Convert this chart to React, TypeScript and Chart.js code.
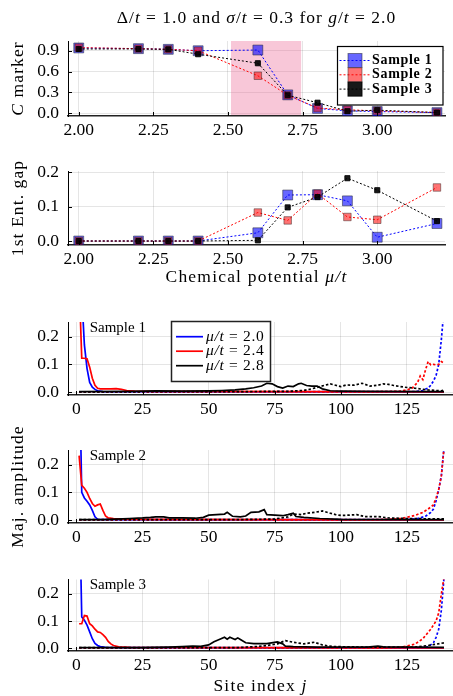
import React, { useEffect, useRef } from "react";
import { Chart, registerables } from "chart.js";
Chart.register(...registerables);

const FONT = '"Liberation Serif", "Times New Roman", serif';

// ---------- top panels data ----------
const MU = [2.0, 2.2, 2.3, 2.4, 2.6, 2.7, 2.8, 2.9, 3.0, 3.2];
const C_S1 = [0.94, 0.93, 0.92, 0.9, 0.91, 0.265, 0.07, 0.035, 0.025, 0.01];
const C_S2 = [0.945, 0.93, 0.92, 0.9, 0.54, 0.26, 0.075, 0.05, 0.035, 0.012];
const C_S3 = [0.925, 0.925, 0.92, 0.85, 0.72, 0.26, 0.152, 0.03, 0.045, 0.01];
const GAP_S1 = [0, 0, 0, 0, 0.024, 0.134, 0.135, 0.117, 0.011, 0.051];
const GAP_S2 = [0, 0, 0, 0, 0.083, 0.06, 0.138, 0.07, 0.062, 0.156];
const GAP_S3 = [0, 0, 0, 0, 0.002, 0.098, 0.128, 0.183, 0.148, 0.058];
const SAMPLE_LABELS = ["Sample 1", "Sample 2", "Sample 3"];
const MU_LABELS = ["2.0", "2.4", "2.8"];
const SHADE_MU = [2.51, 2.745];

const X_TICKS_MU = [2.0, 2.25, 2.5, 2.75, 3.0];
const Y_TICKS_C = [0, 0.3, 0.6, 0.9];
const Y_TICKS_GAP = [0, 0.1, 0.2];
const X_TICKS_SITE = [0, 25, 50, 75, 100, 125];
const Y_TICKS_AMP = [0, 0.1, 0.2];

// ---------- Majorana amplitudes: [site, value] ----------
type Pt = [number, number];
// Sample 1
const S1_B_SOLID: Pt[] = [[1, 0.5], [2, 0.35], [3, 0.17], [4, 0.085], [5, 0.035], [6, 0.018], [7, 0.01], [8, 0.005], [10, 0.002], [139, 0.001]];
const S1_B_DOT: Pt[] = [[1, 0.001], [128, 0.002], [131, 0.006], [133, 0.015], [134, 0.025], [135, 0.04], [136, 0.06], [137, 0.1], [138, 0.19], [139, 0.3]];
const S1_R_SOLID: Pt[] = [[1, 0.4], [2, 0.122], [3, 0.122], [4, 0.12], [5, 0.09], [6, 0.05], [7, 0.025], [8, 0.014], [9, 0.012], [13, 0.012], [15, 0.013], [17, 0.01], [19, 0.006], [22, 0.004], [30, 0.003], [100, 0.002], [139, 0.001]];
const S1_R_DOT: Pt[] = [[1, 0.001], [110, 0.001], [122, 0.003], [125, 0.008], [127, 0.015], [129, 0.035], [130, 0.058], [131, 0.045], [132, 0.08], [133, 0.11], [134, 0.098], [135, 0.1], [136, 0.098], [137, 0.1], [138, 0.11], [139, 0.105]];
const S1_K_SOLID: Pt[] = [[1, 0.002], [20, 0.003], [30, 0.005], [40, 0.004], [50, 0.005], [55, 0.006], [60, 0.008], [64, 0.012], [67, 0.016], [70, 0.022], [72, 0.032], [74, 0.03], [76, 0.02], [78, 0.015], [80, 0.022], [82, 0.02], [84, 0.03], [85, 0.032], [87, 0.024], [89, 0.022], [91, 0.022], [93, 0.012], [96, 0.005], [100, 0.004], [110, 0.003], [139, 0.002]];
const S1_K_DOT: Pt[] = [[1, 0.001], [60, 0.002], [80, 0.003], [86, 0.006], [89, 0.012], [92, 0.02], [96, 0.03], [98, 0.025], [100, 0.02], [102, 0.026], [105, 0.025], [108, 0.032], [111, 0.022], [114, 0.025], [116, 0.03], [118, 0.028], [120, 0.024], [124, 0.018], [128, 0.014], [133, 0.008], [136, 0.006], [138, 0.005], [139, 0.008]];
// Sample 2
const S2_B_SOLID: Pt[] = [[1, 0.6], [2, 0.1], [3, 0.08], [4, 0.068], [5, 0.055], [6, 0.035], [7, 0.012], [8, 0.003], [15, 0.002], [139, 0.001]];
const S2_B_DOT: Pt[] = [[1, 0.001], [125, 0.002], [129, 0.006], [132, 0.014], [134, 0.028], [135, 0.04], [136, 0.07], [137, 0.11], [138, 0.16], [139, 0.26]];
const S2_R_SOLID: Pt[] = [[1, 0.232], [2, 0.125], [3, 0.115], [4, 0.1], [5, 0.078], [6, 0.06], [7, 0.05], [8, 0.055], [9, 0.058], [10, 0.035], [11, 0.015], [12, 0.008], [14, 0.006], [18, 0.004], [25, 0.003], [139, 0.001]];
const S2_R_DOT: Pt[] = [[1, 0.001], [110, 0.001], [118, 0.003], [123, 0.006], [128, 0.017], [131, 0.028], [133, 0.04], [135, 0.055], [136, 0.08], [137, 0.11], [138, 0.16], [139, 0.26]];
const S2_K_SOLID: Pt[] = [[1, 0.002], [10, 0.002], [15, 0.004], [20, 0.006], [25, 0.008], [28, 0.01], [30, 0.012], [33, 0.012], [35, 0.008], [40, 0.008], [45, 0.007], [48, 0.01], [50, 0.018], [53, 0.02], [56, 0.022], [57, 0.028], [59, 0.014], [62, 0.012], [64, 0.015], [66, 0.028], [69, 0.03], [71, 0.038], [72, 0.02], [75, 0.018], [78, 0.016], [80, 0.02], [82, 0.025], [83, 0.013], [86, 0.01], [92, 0.006], [100, 0.003], [139, 0.002]];
const S2_K_DOT: Pt[] = [[1, 0.002], [60, 0.002], [75, 0.004], [80, 0.012], [82, 0.022], [85, 0.02], [87, 0.025], [90, 0.028], [93, 0.033], [96, 0.025], [98, 0.02], [100, 0.017], [103, 0.018], [106, 0.02], [109, 0.013], [114, 0.013], [118, 0.008], [124, 0.006], [132, 0.005], [139, 0.005]];
// Sample 3
const S3_B_SOLID: Pt[] = [[1, 0.6], [2, 0.115], [3, 0.103], [4, 0.085], [5, 0.06], [6, 0.035], [7, 0.018], [8, 0.01], [9, 0.006], [11, 0.003], [20, 0.002], [139, 0.001]];
const S3_B_DOT: Pt[] = [[1, 0.001], [130, 0.002], [133, 0.005], [135, 0.02], [136, 0.04], [137, 0.07], [138, 0.14], [139, 0.26]];
const S3_R_SOLID: Pt[] = [[1, 0.09], [2, 0.09], [3, 0.12], [4, 0.118], [5, 0.09], [6, 0.082], [7, 0.07], [8, 0.06], [9, 0.058], [10, 0.05], [11, 0.04], [12, 0.025], [13, 0.016], [14, 0.01], [16, 0.005], [20, 0.003], [139, 0.001]];
const S3_R_DOT: Pt[] = [[1, 0.001], [115, 0.001], [122, 0.003], [125, 0.008], [128, 0.015], [131, 0.035], [134, 0.07], [136, 0.1], [137, 0.13], [138, 0.2], [139, 0.26]];
const S3_K_SOLID: Pt[] = [[1, 0.002], [25, 0.002], [35, 0.004], [40, 0.006], [44, 0.008], [47, 0.007], [50, 0.012], [52, 0.024], [54, 0.032], [56, 0.04], [57, 0.033], [58, 0.04], [60, 0.032], [61, 0.038], [62, 0.032], [64, 0.02], [67, 0.017], [72, 0.017], [76, 0.023], [78, 0.016], [79, 0.008], [82, 0.006], [91, 0.004], [110, 0.004], [114, 0.008], [116, 0.005], [139, 0.003]];
const S3_K_DOT: Pt[] = [[1, 0.002], [60, 0.002], [68, 0.006], [72, 0.01], [76, 0.016], [79, 0.028], [82, 0.022], [86, 0.016], [90, 0.022], [93, 0.012], [97, 0.006], [110, 0.004], [128, 0.004], [133, 0.01], [136, 0.015], [139, 0.02]];

const ANNOT_POS: Pt = [5, 0.232];

// ---------- styling ----------
const COLORS = ["#0000ff", "#ff0000", "#000000"];
const MARK_FILL = ["rgba(0,0,255,0.6)", "rgba(255,0,0,0.55)", "rgba(0,0,0,0.9)"];
const MARK_BORDER = ["rgba(40,40,60,0.55)", "rgba(60,40,40,0.5)", "rgba(0,0,0,0.9)"];
const MARK_R = [7, 5.3, 3.6];

type Part = [string, number]; // 0 normal, 1 italic, 2 bold
function rich(ctx: CanvasRenderingContext2D, parts: Part[], x: number, y: number, size: number, align = "center", rot = false, spacing = 0) {
  ctx.save();
  ctx.translate(x, y);
  if (rot) ctx.rotate(-Math.PI / 2);
  (ctx as any).letterSpacing = `${spacing}px`;
  const fonts = parts.map(([, s]) => `${s === 1 ? "italic " : ""}${s === 2 ? "bold " : ""}${size}px ${FONT}`);
  let total = 0;
  const ws = parts.map(([t], k) => {
    ctx.font = fonts[k];
    const w = ctx.measureText(t).width;
    total += w;
    return w;
  });
  let cx = align === "center" ? -total / 2 : align === "right" ? -total : 0;
  ctx.textBaseline = "middle";
  ctx.textAlign = "left";
  ctx.fillStyle = "#000";
  parts.forEach(([t], k) => {
    ctx.font = fonts[k];
    ctx.fillText(t, cx, 0);
    cx += ws[k];
  });
  ctx.restore();
}

function innerTicks(c: any) {
  const { ctx, chartArea: a, scales } = c;
  const x = scales.x, y = scales.y;
  ctx.save();
  ctx.strokeStyle = "#000";
  ctx.lineWidth = 1;
  ctx.beginPath();
  x.ticks.forEach((t: any) => {
    const px = Math.round(x.getPixelForValue(t.value)) + 0.5;
    ctx.moveTo(px, a.bottom);
    ctx.lineTo(px, a.bottom - 4);
  });
  y.ticks.forEach((t: any) => {
    const py = Math.round(y.getPixelForValue(t.value)) + 0.5;
    ctx.moveTo(a.left, py);
    ctx.lineTo(a.left + 4, py);
  });
  ctx.stroke();
  ctx.restore();
}

interface Spec {
  height: number;
  padTop: number;
  xH: number;
  xRange: [number, number];
  yRange: [number, number];
  xTicks: number[];
  yTicks: number[];
  xDec: number;
  yDec: number;
  datasets: any[];
  draw: (c: any) => void;
  under?: (c: any) => void;
}

function build(canvas: HTMLCanvasElement, s: Spec) {
  const tickFont = { family: FONT, size: 17.5 };
  return new Chart(canvas, {
    type: "line",
    data: { datasets: s.datasets },
    options: {
      responsive: false,
      animation: false,
      devicePixelRatio: 1,
      events: [],
      layout: { padding: { top: s.padTop, left: 0, right: 0, bottom: 0 } },
      plugins: { legend: { display: false }, tooltip: { enabled: false }, title: { display: false } },
      scales: {
        x: {
          type: "linear",
          min: s.xRange[0],
          max: s.xRange[1],
          afterBuildTicks: (sc: any) => { sc.ticks = s.xTicks.map((v) => ({ value: v })); },
          afterFit: (sc: any) => { sc.height = s.xH; },
          grid: { color: "rgba(0,0,0,0.1)", lineWidth: 1, drawTicks: false },
          border: { display: true, color: "#222", width: 1.6 },
          ticks: { font: tickFont, color: "#000", padding: 4, maxRotation: 0, autoSkip: false, callback: (v: any) => Number(v).toFixed(s.xDec) },
        },
        y: {
          type: "linear",
          min: s.yRange[0],
          max: s.yRange[1],
          afterBuildTicks: (sc: any) => { sc.ticks = s.yTicks.map((v) => ({ value: v })); },
          afterFit: (sc: any) => { sc.width = 68; },
          grid: { color: "rgba(0,0,0,0.1)", lineWidth: 1, drawTicks: false },
          border: { display: true, color: "#000", width: 1 },
          ticks: { font: tickFont, color: "#000", padding: 9, autoSkip: false, callback: (v: any) => Number(v).toFixed(s.yDec) },
        },
      },
    } as any,
    plugins: [
      {
        id: "decor",
        beforeDatasetsDraw: (c: any) => { if (s.under) s.under(c); },
        afterDraw: (c: any) => { innerTicks(c); s.draw(c); },
      },
    ],
  });
}

const muDs = (k: number, vals: number[]) => ({
  label: SAMPLE_LABELS[k],
  data: MU.map((x, i) => ({ x, y: vals[i] })),
  borderColor: COLORS[k],
  borderWidth: 1,
  borderDash: [2, 2],
  pointStyle: "rect",
  pointRadius: MARK_R[k],
  pointBackgroundColor: MARK_FILL[k],
  pointBorderColor: MARK_BORDER[k],
  pointBorderWidth: 1,
  tension: 0,
  fill: false,
  order: 3 - k,
});

const ampDs = (pts: Pt[], k: number, dashed: boolean) => ({
  data: pts.map(([x, y]) => ({ x, y })),
  borderColor: COLORS[k],
  borderWidth: 1.7,
  borderDash: dashed ? [2.5, 2] : [],
  pointRadius: 0,
  tension: 0,
  fill: false,
  order: (3 - k) * 2 - (dashed ? 1 : 0),
});

function yTitle(c: any, parts: Part[]) {
  const a = c.chartArea;
  rich(c.ctx, parts, 18, (a.top + a.bottom) / 2, 17.5, "center", true, 1.1);
}
function xTitle(c: any, parts: Part[], y: number) {
  const a = c.chartArea;
  rich(c.ctx, parts, (a.left + a.right) / 2, y, 17.5, "center", false, 1.2);
}

function sampleLegend(c: any) {
  const ctx = c.ctx;
  const bx = 337.5, by = 46.5, bw = 105.5, bh = 58.5;
  ctx.save();
  ctx.fillStyle = "#fff";
  ctx.fillRect(bx, by, bw, bh);
  ctx.strokeStyle = "#000";
  ctx.lineWidth = 1.2;
  ctx.strokeRect(bx, by, bw, bh);
  SAMPLE_LABELS.forEach((lab, k) => {
    const y = by + 14 + k * 14.3;
    ctx.setLineDash([2, 2]);
    ctx.strokeStyle = COLORS[k];
    ctx.lineWidth = 1;
    ctx.beginPath();
    ctx.moveTo(bx + 2, y);
    ctx.lineTo(bx + 32, y);
    ctx.stroke();
    ctx.setLineDash([]);
    ctx.fillStyle = MARK_FILL[k];
    ctx.fillRect(355 - 7, y - 7, 14, 14);
    ctx.strokeStyle = MARK_BORDER[k];
    ctx.strokeRect(355 - 7, y - 7, 14, 14);
    rich(ctx, [[lab, 2]], 372, y, 14, "left", false, 0.7);
  });
  ctx.restore();
}

function muLegend(c: any) {
  const ctx = c.ctx;
  const bx = 171.5, by = 21.5, bw = 99, bh = 60;
  ctx.save();
  ctx.fillStyle = "#fff";
  ctx.fillRect(bx, by, bw, bh);
  ctx.strokeStyle = "#222";
  ctx.lineWidth = 1.5;
  ctx.strokeRect(bx, by, bw, bh);
  MU_LABELS.forEach((lab, k) => {
    const y = by + 15.2 + k * 14.5;
    ctx.strokeStyle = COLORS[k];
    ctx.lineWidth = 1.7;
    ctx.beginPath();
    ctx.moveTo(176, y);
    ctx.lineTo(203, y);
    ctx.stroke();
    rich(ctx, [["μ/t", 1], [" = " + lab, 0]], 206, y, 15.5, "left", false, 0.7);
  });
  ctx.restore();
}

function annot(c: any, text: string) {
  const x = c.scales.x.getPixelForValue(ANNOT_POS[0]);
  const y = c.scales.y.getPixelForValue(ANNOT_POS[1]);
  rich(c.ctx, [[text, 0]], x, y, 15, "left");
}

const MU_RANGE: [number, number] = [1.964, 3.227];
const SITE_RANGE: [number, number] = [-3.2, 142.4];
const AMP_RANGE: [number, number] = [-0.0102, 0.2525];

const SPECS: { top: number; spec: Spec }[] = [
  {
    top: 0,
    spec: {
      height: 140, padTop: 41, xH: 24, xRange: MU_RANGE, yRange: [-0.039, 1.04],
      xTicks: X_TICKS_MU, yTicks: Y_TICKS_C, xDec: 2, yDec: 1,
      datasets: [muDs(0, C_S1), muDs(1, C_S2), muDs(2, C_S3)],
      under: (c) => {
        const a = c.chartArea;
        const x0 = c.scales.x.getPixelForValue(SHADE_MU[0]);
        const x1 = c.scales.x.getPixelForValue(SHADE_MU[1]);
        c.ctx.save();
        c.ctx.fillStyle = "rgba(232,80,135,0.32)";
        c.ctx.fillRect(x0, a.top, x1 - x0, a.bottom - a.top - 1);
        c.ctx.restore();
      },
      draw: (c) => {
        const a = c.chartArea;
        rich(c.ctx, [["Δ/", 0], ["t", 1], [" = 1.0 and ", 0], ["σ", 1], ["/", 0], ["t", 1], [" = 0.3 for ", 0], ["g", 1], ["/", 0], ["t", 1], [" = 2.0", 0]], (a.left + a.right) / 2, 18, 17.5, "center", false, 1);
        yTitle(c, [["C", 1], [" marker", 0]]);
        sampleLegend(c);
      },
    },
  },
  {
    top: 150,
    spec: {
      height: 140, padTop: 21, xH: 45, xRange: MU_RANGE, yRange: [-0.0116, 0.204],
      xTicks: X_TICKS_MU, yTicks: Y_TICKS_GAP, xDec: 2, yDec: 1,
      datasets: [muDs(0, GAP_S1), muDs(1, GAP_S2), muDs(2, GAP_S3)],
      draw: (c) => {
        yTitle(c, [["1st Ent. gap", 0]]);
        xTitle(c, [["Chemical potential ", 0], ["μ/t", 1]], 127);
      },
    },
  },
  {
    top: 300,
    spec: {
      height: 120, padTop: 22, xH: 25, xRange: SITE_RANGE, yRange: AMP_RANGE,
      xTicks: X_TICKS_SITE, yTicks: Y_TICKS_AMP, xDec: 0, yDec: 1,
      datasets: [ampDs(S1_B_SOLID, 0, false), ampDs(S1_B_DOT, 0, true), ampDs(S1_R_SOLID, 1, false), ampDs(S1_R_DOT, 1, true), ampDs(S1_K_SOLID, 2, false), ampDs(S1_K_DOT, 2, true)],
      draw: (c) => {
        annot(c, SAMPLE_LABELS[0]);
        muLegend(c);
      },
    },
  },
  {
    top: 420,
    spec: {
      height: 130, padTop: 30, xH: 27, xRange: SITE_RANGE, yRange: AMP_RANGE,
      xTicks: X_TICKS_SITE, yTicks: Y_TICKS_AMP, xDec: 0, yDec: 1,
      datasets: [ampDs(S2_B_SOLID, 0, false), ampDs(S2_B_DOT, 0, true), ampDs(S2_R_SOLID, 1, false), ampDs(S2_R_DOT, 1, true), ampDs(S2_K_SOLID, 2, false), ampDs(S2_K_DOT, 2, true)],
      draw: (c) => {
        annot(c, SAMPLE_LABELS[1]);
        yTitle(c, [["Maj. amplitude", 0]]);
      },
    },
  },
  {
    top: 560,
    spec: {
      height: 136, padTop: 18, xH: 45, xRange: SITE_RANGE, yRange: AMP_RANGE,
      xTicks: X_TICKS_SITE, yTicks: Y_TICKS_AMP, xDec: 0, yDec: 1,
      datasets: [ampDs(S3_B_SOLID, 0, false), ampDs(S3_B_DOT, 0, true), ampDs(S3_R_SOLID, 1, false), ampDs(S3_R_DOT, 1, true), ampDs(S3_K_SOLID, 2, false), ampDs(S3_K_DOT, 2, true)],
      draw: (c) => {
        annot(c, SAMPLE_LABELS[2]);
        xTitle(c, [["Site index ", 0], ["j", 1]], 126);
      },
    },
  },
];

function Panel({ top, spec }: { top: number; spec: Spec }) {
  const ref = useRef<HTMLCanvasElement>(null);
  useEffect(() => {
    const chart = build(ref.current!, spec);
    return () => chart.destroy();
  }, []);
  return (
    <canvas
      ref={ref}
      width={453}
      height={spec.height}
      style={{ position: "absolute", left: 0, top, width: 453, height: spec.height }}
    />
  );
}

export default function App() {
  return (
    <div style={{ position: "fixed", left: 0, top: 0, width: 453, height: 696, background: "#fff", overflow: "hidden" }}>
      {SPECS.map((p, i) => (
        <Panel key={i} top={p.top} spec={p.spec} />
      ))}
    </div>
  );
}
